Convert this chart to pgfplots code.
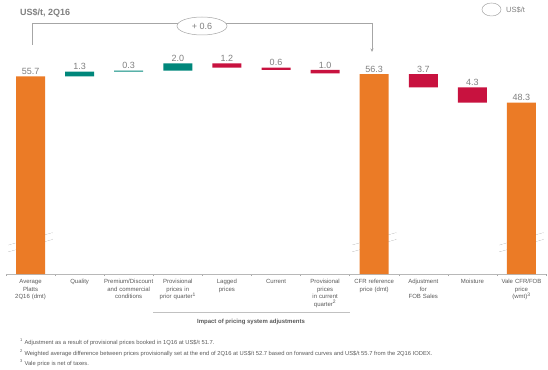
\documentclass[border=0pt]{standalone}
\usepackage{fontspec}
\setmainfont{Liberation Sans}
\usepackage{pgfplots}
\pgfplotsset{compat=1.18}
\usepackage{pgfplotstable}
\usetikzlibrary{arrows.meta}
\definecolor{vorange}{HTML}{EB7B26}
\definecolor{vteal}{HTML}{00877B}
\definecolor{vred}{HTML}{C8123F}
\definecolor{lblgrey}{HTML}{7F7F7F}
\definecolor{txtgrey}{HTML}{595959}
\definecolor{linegrey}{HTML}{A6A6A6}

\pgfplotstableread{
x base orng teal red top lab
0 0 55.7 0 0 55.7 55.7
1 55.7 0 1.3 0 57.0 1.3
2 57.0 0 0.3 0 57.3 0.3
3 57.3 0 2.0 0 59.3 2.0
4 58.1 0 0 1.2 59.3 1.2
5 57.5 0 0 0.6 58.1 0.6
6 56.5 0 0 1.0 57.5 1.0
7 0 56.3 0 0 56.3 56.3
8 52.6 0 0 3.7 56.3 3.7
9 48.3 0 0 4.3 52.6 4.3
10 0 48.3 0 0 48.3 48.3
}\data

\begin{document}
\begin{tikzpicture}[x=1pt,y=1pt]
\useasboundingbox (0,0) rectangle (548,369);
\begin{axis}[
  at={(6pt,95pt)}, anchor=south west,
  scale only axis, width=540pt, height=213pt,
  xmin=-0.5, xmax=10.5, ymin=0, ymax=60,
  ybar stacked, bar width=29pt,
  axis x line=bottom, axis y line=none,
  x axis line style={draw=linegrey!80, -, line width=0.5pt},
  xtick={0,...,10},
  xticklabels={
    {Average\\Platts\\2Q16 (dmt)},
    {Quality},
    {Premium/Discount\\and commercial\\conditions},
    {Provisional\\prices in\\prior quarter\textsuperscript{1}},
    {Lagged\\prices},
    {Current},
    {Provisional\\prices\\in current\\quarter\textsuperscript{2}},
    {CFR reference\\price (dmt)},
    {Adjustment\\for\\FOB Sales},
    {Moisture},
    {Vale CFR/FOB\\price\\(wmt)\textsuperscript{3}}},
  major tick length=0pt,
  minor xtick={-0.5,0.5,...,10.5},
  minor tick length=2pt,
  tick align=outside,
  minor tick style={draw=linegrey, line width=0.4pt},
  xticklabel style={font=\fontsize{6}{7.5}\selectfont, text=txtgrey, align=center, text width=52pt, anchor=north, yshift=-2pt},
  clip=false,
]
\addplot[draw=none, fill=none] table[x=x,y=base]{\data};
\addplot[draw=none, fill=vorange] table[x=x,y=orng]{\data};
\addplot[draw=none, fill=vteal] table[x=x,y=teal]{\data};
\addplot[draw=none, fill=vred] table[x=x,y=red]{\data};
\pgfplotsinvokeforeach{0,7,10}{
  \fill[white] (axis cs:{#1-0.45},6.3) -- (axis cs:{#1+0.45},9.8) -- (axis cs:{#1+0.45},11.6) -- (axis cs:{#1-0.45},8.1) -- cycle;
  \draw[linegrey, line width=0.5pt] (axis cs:{#1-0.45},6.3) -- (axis cs:{#1+0.45},9.8);
  \draw[linegrey, line width=0.5pt] (axis cs:{#1-0.45},8.1) -- (axis cs:{#1+0.45},11.6);
}
\end{axis}
\begin{axis}[
  at={(6pt,95pt)}, anchor=south west,
  scale only axis, width=540pt, height=213pt,
  xmin=-0.5, xmax=10.5, ymin=0, ymax=60,
  hide axis, clip=false,
]
\addplot[only marks, mark=none, nodes near coords, point meta=explicit symbolic,
  nodes near coords style={font=\fontsize{9}{10}\selectfont, text=lblgrey, anchor=south, inner sep=1.5pt}]
  table[x=x,y=top,meta=lab]{\data};
\end{axis}
% bracket
\draw[linegrey, line width=0.6pt] (32,324) -- (32,346) -- (372,346);
\draw[linegrey, line width=0.6pt, -{Stealth[length=3.5pt,width=3pt]}] (372,346) -- (372,317);
\filldraw[fill=white, draw=linegrey, line width=0.5pt] (202,343) ellipse (25 and 9);
\node[font=\fontsize{9}{10}\selectfont, text=lblgrey] at (202,343) {+ 0.6};
% legend
\draw[linegrey, line width=0.5pt] (491.5,359.5) ellipse (9.5 and 6.5);
\node[anchor=west, font=\fontsize{7.5}{9}\selectfont, text=lblgrey, inner sep=0pt] at (506,359.5) {US\$/t};
% title
\node[anchor=west, font=\bfseries\fontsize{9}{10}\selectfont, text=lblgrey, inner sep=0pt] at (20,356) {US\$/t, 2Q16};
% group
\draw[linegrey!70, line width=0.5pt] (153,57) -- (350,57);
\node[font=\bfseries\fontsize{6}{7}\selectfont, text=txtgrey] at (251,47) {Impact of pricing system adjustments};
% footnotes
\begin{scope}[every node/.style={anchor=west, inner sep=0pt, font=\fontsize{5.8}{7}\selectfont, text=txtgrey}]
\node at (20,27) {\textsuperscript{1} Adjustment as a result of provisional prices booked in 1Q16 at US\$/t 51.7.};
\node at (20,16) {\textsuperscript{2} Weighted average difference between prices provisionally set at the end of 2Q16 at US\$/t 52.7 based on forward curves and US\$/t 55.7 from the 2Q16 IODEX.};
\node at (20,6) {\textsuperscript{3} Vale price is net of taxes.};
\end{scope}
\end{tikzpicture}
\end{document}
